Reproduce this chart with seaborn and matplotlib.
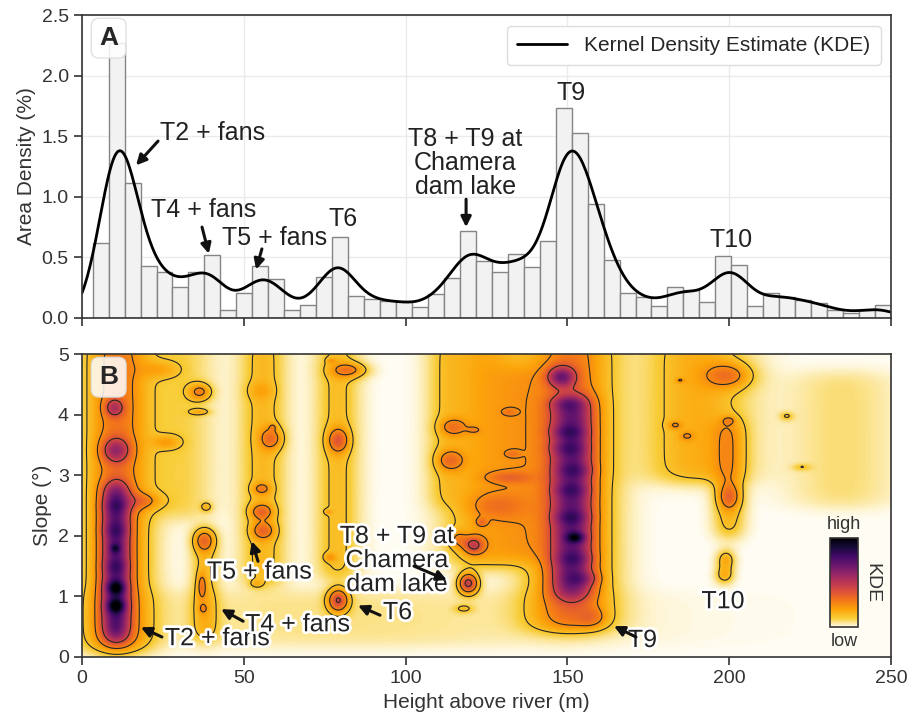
import numpy as np
import pandas as pd
import matplotlib
matplotlib.use("Agg")
import matplotlib.pyplot as plt
import matplotlib.patheffects as pe
from matplotlib.colors import LinearSegmentedColormap
import seaborn as sns

# ---- panel A: area density histogram (50 bins, 3.3 - 250 m) ----
hist_range = (3.3, 250.0)
hist_heights = [0.615, 2.27, 1.115, 0.425, 0.38, 0.255, 0.38, 0.516, 0.066, 0.206,
                0.431, 0.324, 0.066, 0.11, 0.335, 0.67, 0.184, 0.157, 0.137, 0.137,
                0.093, 0.2, 0.327, 0.717, 0.47, 0.38, 0.53, 0.42, 0.635, 1.736,
                1.527, 0.94, 0.48, 0.206, 0.173, 0.10, 0.255, 0.233, 0.134, 0.508,
                0.437, 0.10, 0.206, 0.173, 0.146, 0.124, 0.068, 0.04, 0.063, 0.11]
hist_edges = np.linspace(hist_range[0], hist_range[1], len(hist_heights) + 1)
hist_centers = (hist_edges[:-1] + hist_edges[1:]) / 2

# ---- panel B: height / slope density, read as ridges and spots ----
# vertical ridges: height, slope from, slope to, spread (m), weight
ridge_x = [10.5, 11, 38, 31, 56, 79, 124, 136, 112, 151, 151.5, 200, 190, 235, 80]
ridge_y0 = [0.3, 0.1, 0.3, 2.3, 1.2, 1.3, 1.5, 1.6, 2.5, 0.45, 1.0, 2.0, 2.9, 2.5, 0.2]
ridge_y1 = [2.85, 5.3, 2.1, 5.3, 5.3, 5.3, 5.3, 4.8, 5.3, 5.3, 4.3, 3.9, 5.3, 4.7, 1.1]
ridge_sx = [3.0, 7.0, 3.0, 7, 5.0, 4.8, 8.5, 6, 4, 9, 4.5, 3.5, 11, 12, 60]
ridge_w = [0.45, 0.30, 0.14, 0.09, 0.15, 0.14, 0.19, 0.10, 0.07, 0.30, 0.42, 0.15,
           0.18, 0.07, 0.06]

# local maxima: height, slope, spread x, spread y, weight
spot_x = [10.5, 10.5, 10.3, 10.5, 10.5, 10.5, 10.5, 10.0, 19.0,
          37.8, 37.0, 37.4, 36.5, 36.5, 38.5, 24, 26,
          56, 55.5, 55.5, 58.6, 59, 54, 55,
          79.2, 79.2, 76.6, 76.1, 82.8, 77,
          119.4, 121, 116, 123.5, 132, 113.7, 114.7, 132, 121, 133, 128, 118,
          148.2, 149.8, 150, 150, 152.3, 151, 151, 152.5, 152, 154.9, 158,
          200, 199, 198.6, 200, 184.8, 183.2, 186.9, 200, 217.8, 222.4]
spot_y = [0.85, 1.15, 1.80, 1.5, 2.1, 2.5, 3.42, 4.12, 2.58,
          1.93, 1.18, 0.8, 4.38, 4.05, 2.48, 4.75, 3.55,
          2.09, 2.4, 2.78, 3.61, 3.8, 1.21, 4.4,
          0.94, 3.58, 1.65, 2.4, 4.74, 4.9,
          1.22, 1.85, 1.95, 2.23, 2.97, 3.25, 3.8, 4.05, 3.75, 3.36, 2.5, 0.8,
          4.63, 4.19, 3.72, 3.45, 3.09, 2.76, 2.31, 1.98, 1.63, 1.3, 0.65,
          2.65, 1.6, 1.35, 4.65, 4.57, 3.83, 3.65, 3.91, 3.98, 3.14]
spot_sx = [2.0, 2.0, 1.0, 2.5, 2.5, 2.5, 3.0, 2.0, 4.0,
           2.3, 1.0, 1.0, 2.5, 2.2, 1.3, 4, 3,
           2.5, 2.5, 2.0, 2.5, 0.8, 1.5, 3,
           2.3, 2.3, 1.3, 0.9, 4, 1,
           2.2, 2.2, 2.0, 1.2, 5, 3, 3, 1.5, 1.5, 1.5, 6, 2,
           3, 3.5, 3.5, 3.5, 3.5, 3.5, 3.5, 2, 3.5, 3.5, 3,
           2.5, 2, 2, 5, 1, 1.5, 1.5, 1.5, 1.5, 2]
spot_sy = [0.08, 0.08, 0.05, 0.08, 0.08, 0.08, 0.14, 0.10, 0.10,
           0.13, 0.15, 0.06, 0.10, 0.04, 0.06, 0.1, 0.08,
           0.10, 0.09, 0.07, 0.13, 0.04, 0.05, 0.1,
           0.14, 0.14, 0.05, 0.03, 0.09, 0.03,
           0.12, 0.10, 0.10, 0.05, 0.07, 0.12, 0.10, 0.04, 0.04, 0.04, 0.15, 0.05,
           0.12, 0.08, 0.08, 0.08, 0.08, 0.08, 0.08, 0.06, 0.08, 0.08, 0.12,
           0.15, 0.12, 0.10, 0.15, 0.03, 0.05, 0.05, 0.05, 0.05, 0.04]
spot_w = [0.30, 0.30, 0.20, 0.08, 0.08, 0.08, 0.30, 0.25, 0.15,
          0.22, 0.17, 0.10, 0.22, 0.12, 0.12, 0.10, 0.12,
          0.20, 0.20, 0.15, 0.20, 0.10, 0.10, 0.06,
          0.38, 0.25, 0.12, 0.10, 0.20, 0.10,
          0.45, 0.30, 0.15, 0.12, 0.12, 0.18, 0.16, 0.08, 0.08, 0.08, 0.10, 0.10,
          0.40, 0.12, 0.12, 0.10, 0.10, 0.10, 0.12, 0.30, 0.10, 0.12, 0.10,
          0.20, 0.18, 0.16, 0.20, 0.10, 0.12, 0.10, 0.10, 0.10, 0.08]

sns.set_style("ticks")
plt.rcParams["font.family"] = ["Liberation Sans", "DejaVu Sans"]
plt.rcParams["axes.edgecolor"] = "#333333"
plt.rcParams["axes.linewidth"] = 1.2

fig = plt.figure(figsize=(9.11, 7.21), dpi=100)
ax_a = fig.add_axes([0.090, 0.559, 0.888, 0.420])
ax_b = fig.add_axes([0.090, 0.0888, 0.888, 0.420])

# ---- panel A ----
hist_df = pd.DataFrame({"height": hist_centers, "area": hist_heights})
ax_a.grid(True, color="#ebebeb", lw=1, zorder=0)
ax_a.set_axisbelow(True)
sns.histplot(data=hist_df, x="height", weights="area", bins=len(hist_heights),
             binrange=hist_range, color="#f2f2f2", edgecolor="#858585",
             linewidth=1, alpha=1, ax=ax_a)
sns.kdeplot(data=hist_df, x="height", weights="area", bw_method=0.07, cut=3,
            clip=(0, 250), gridsize=600, color="black", lw=2,
            label="Kernel Density Estimate (KDE)", ax=ax_a)
# scale the density to the histogram's area (% per m)
kde_line = ax_a.lines[-1]
kde_line.set_ydata(kde_line.get_ydata() * sum(hist_heights) * np.diff(hist_edges)[0])
ax_a.set_xlim(0, 250)
ax_a.set_ylim(0, 2.5)
ax_a.set_xticks([0, 50, 100, 150, 200, 250])
ax_a.set_xticklabels([])
ax_a.set_yticks([0, 0.5, 1.0, 1.5, 2.0, 2.5])
ax_a.set_yticklabels(["0.0", "0.5", "1.0", "1.5", "2.0", "2.5"])
ax_a.set_xlabel("")
ax_a.set_ylabel("Area Density (%)", fontsize=15, color="#333333")
ax_a.legend(loc="upper right", fontsize=15, handlelength=2.4, fancybox=True,
            framealpha=1, edgecolor="#dddddd", borderpad=0.5)

arrow_kw = dict(arrowstyle="-|>", color="#111111", lw=2.2, mutation_scale=15,
                shrinkA=0, shrinkB=0)
ann_a = [("T2 + fans", (24.1, 1.525), "left", (23.5, 1.46), (16.7, 1.26)),
         ("T4 + fans", (37.7, 0.89), "center", (37.1, 0.75), (39.2, 0.53)),
         ("T5 + fans", (59.6, 0.66), "center", (55.6, 0.57), (53.8, 0.40)),
         ("T6", (80.7, 0.82), "center", None, None),
         ("T8 + T9 at\nChamera\ndam lake", (118.4, 1.28), "center", (118.7, 0.98), (118.7, 0.75)),
         ("T9", (151.1, 1.855), "center", None, None),
         ("T10", (200.6, 0.64), "center", None, None)]
for label, pos, ha, tail, head in ann_a:
    ax_a.text(pos[0], pos[1], label, ha=ha, va="center", fontsize=18,
              color="#222222", linespacing=1.0)
    if head is not None:
        ax_a.annotate("", xy=head, xytext=tail, arrowprops=arrow_kw)

# ---- panel B ----
gx = np.linspace(0, 250, 626)
gy = np.linspace(0, 5, 301)
xx, yy = np.meshgrid(gx, gy)
field = np.zeros_like(xx)
for cx, y0, y1, sx, w in zip(ridge_x, ridge_y0, ridge_y1, ridge_sx, ridge_w):
    prof = 1 / (1 + np.exp(-(yy - y0) / 0.08)) / (1 + np.exp((yy - y1) / 0.08))
    field += w * np.exp(-0.5 * ((xx - cx) / sx) ** 2) * prof
for cx, cy, sx, sy, w in zip(spot_x, spot_y, spot_sx, spot_sy, spot_w):
    field += w * np.exp(-0.5 * (((xx - cx) / sx) ** 2 + ((yy - cy) / sy) ** 2))

inferno = plt.get_cmap("inferno")
cmap = LinearSegmentedColormap.from_list(
    "kde", ["#fffdf3"] + [inferno(t) for t in [0.88, 0.8, 0.7, 0.6, 0.5, 0.4, 0.3, 0.2, 0.1, 0.0]])
mesh = ax_b.pcolormesh(xx, yy, field, cmap=cmap, vmin=0, vmax=1, shading="gouraud",
                       rasterized=True)
ax_b.contour(xx, yy, field, levels=[0.12, 0.25, 0.42], colors="#262626", linewidths=0.8)
ax_b.set_xlim(0, 250)
ax_b.set_ylim(0, 5)
ax_b.set_xticks([0, 50, 100, 150, 200, 250])
ax_b.set_yticks([0, 1, 2, 3, 4, 5])
ax_b.set_xlabel("Height above river (m)", fontsize=15, color="#333333")
ax_b.set_ylabel("Slope (°)", fontsize=15, color="#333333")

stroke = [pe.withStroke(linewidth=4, foreground="white")]
ann_b = [("T2 + fans", (25.6, 0.31), "left", (24.7, 0.33), (18.2, 0.49)),
         ("T4 + fans", (50.4, 0.54), "left", (49.8, 0.59), (43.0, 0.79)),
         ("T5 + fans", (38.6, 1.41), "left", (54.4, 1.58), (52.5, 1.91)),
         ("T6", (93.0, 0.74), "left", (92.1, 0.69), (85.3, 0.85)),
         ("T8 + T9 at\nChamera\ndam lake", (97.3, 1.6), "center", (102.6, 1.5), (112.8, 1.27)),
         ("T9", (168.7, 0.28), "left", (171.2, 0.33), (164.4, 0.51)),
         ("T10", (198.1, 0.92), "center", None, None)]
for label, pos, ha, tail, head in ann_b:
    ax_b.text(pos[0], pos[1], label, ha=ha, va="center", fontsize=18, color="#222222",
              linespacing=1.0, path_effects=stroke, zorder=5)
    if head is not None:
        ax_b.annotate("", xy=head, xytext=tail, arrowprops=arrow_kw, zorder=5)

for ax in (ax_a, ax_b):
    ax.tick_params(labelsize=14, length=6, width=1.2, colors="#333333", direction="out")
    for sp in ax.spines.values():
        sp.set_visible(True)

box = dict(boxstyle="round,pad=0.3", fc="white", ec="#dcdcdc", alpha=0.85)
ax_a.text(0.033, 0.924, "A", transform=ax_a.transAxes, fontsize=19, fontweight="bold",
          ha="center", va="center", bbox=box, zorder=6)
ax_b.text(0.033, 0.924, "B", transform=ax_b.transAxes, fontsize=19, fontweight="bold",
          ha="center", va="center", bbox=box, zorder=6)

cax = fig.add_axes([0.911, 0.130, 0.0307, 0.1234])
cb = fig.colorbar(mesh, cax=cax, ticks=[])
cb.outline.set_edgecolor("#333333")
cb.outline.set_linewidth(1.2)
cax.set_ylabel("KDE", rotation=270, fontsize=14, labelpad=16, color="#333333")
cax.text(0.5, 1.06, "high", transform=cax.transAxes, ha="center", va="bottom",
         fontsize=13, color="#333333")
cax.text(0.5, -0.06, "low", transform=cax.transAxes, ha="center", va="top",
         fontsize=13, color="#333333")

fig.savefig("out.png", dpi=100)
